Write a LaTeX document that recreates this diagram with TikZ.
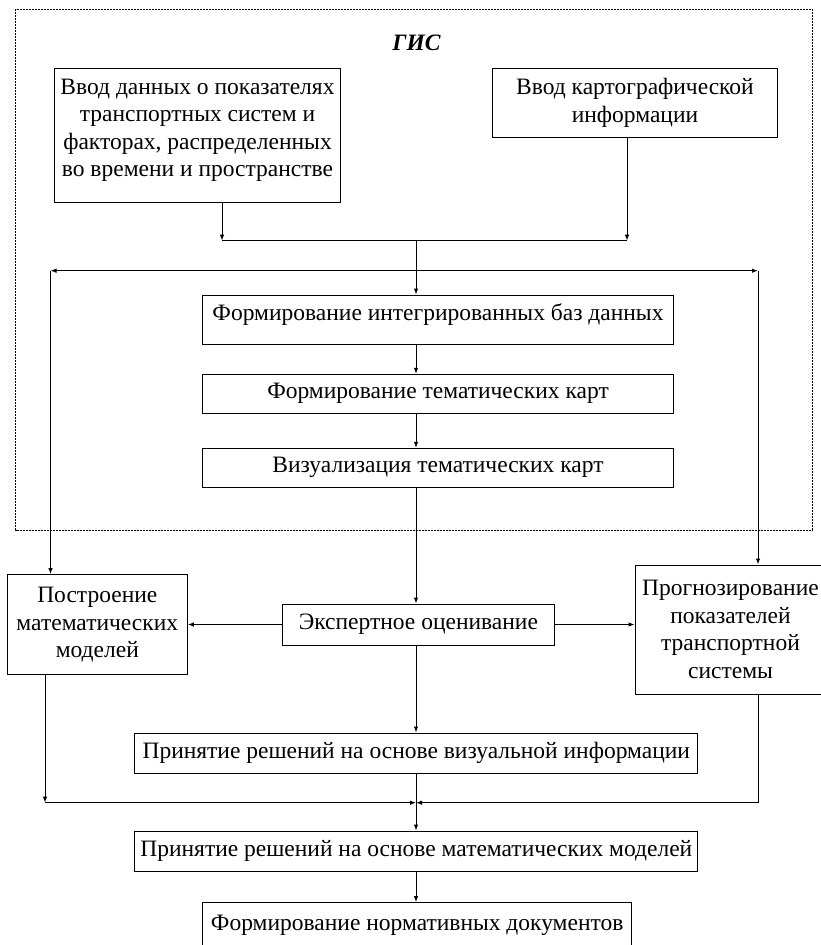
\documentclass[tikz,border=0pt]{standalone}
\usepackage{fontspec}
\usetikzlibrary{arrows.meta}
\setmainfont{Liberation Serif}
\begin{document}
\begin{tikzpicture}[x=1pt, y=-1pt, >={Latex[length=6pt,width=4.5pt]}, line width=1pt,
        box/.style={draw, align=center, inner sep=0pt, font=\fontsize{23.5}{27.4}\selectfont}]
        \useasboundingbox (0,0) rectangle (820,945);
        \draw[dash pattern=on 2pt off 1pt, line width=0.8pt] (15.7,9.3) rectangle (812,530);
        \node[font=\fontsize{23.5}{27.4}\selectfont\bfseries\itshape] (gis) at (416.5,43) {ГИС};
        \node[box, text depth=15pt, minimum width=286pt, minimum height=133.3pt] (inData) at (197.5,135.4) {Ввод данных о показателях\\транспортных систем и\\факторах, распределенных\\во времени и пространстве};
        \node[box, minimum width=285.5pt, minimum height=68.6pt] (inMap) at (635,103) {Ввод картографической\\информации};
        \node[box, text depth=15pt, minimum width=471.2pt, minimum height=49pt] (fDB) at (438,319.5) {Формирование интегрированных баз данных};
        \node[box, minimum width=471.2pt, minimum height=39pt] (fMap) at (438,393.8) {Формирование тематических карт};
        \node[box, minimum width=471.2pt, minimum height=39pt] (vMap) at (438,467.8) {Визуализация тематических карт};
        \node[box, minimum width=180pt, minimum height=100.3pt] (build) at (97.3,624.8) {Построение\\математических\\моделей};
        \node[box, minimum width=272pt, minimum height=41pt] (expert) at (418.4,624.5) {Экспертное оценивание};
        \node[box, minimum width=191pt, minimum height=129pt] (forecast) at (730.5,629.5) {Прогнозирование\\показателей\\транспортной\\системы};
        \node[box, minimum width=562.7pt, minimum height=40pt] (decVis) at (416.3,753) {Принятие решений на основе визуальной информации};
        \node[box, minimum width=562.7pt, minimum height=40pt] (decMath) at (416.3,851) {Принятие решений на основе математических моделей};
        \node[box, minimum width=429pt, minimum height=46pt] (norm) at (417.2,925.7) {Формирование нормативных документов};
        \coordinate (mergeL) at (222,240.7);
        \coordinate (mergeR) at (627,240.7);
        \coordinate (merge) at (416,240.7);
        \coordinate (distL) at (50.5,270.7);
        \coordinate (distR) at (758,270.7);
        \coordinate (joinL) at (45,802.7);
        \coordinate (joinR) at (758,802.7);
        \coordinate (join) at (416,802.7);
        \draw[->] (inData.south -| mergeL) -- (mergeL);
        \draw[->] (inMap.south -| mergeR) -- (mergeR);
        \draw (mergeL) -- (mergeR);
        \draw[->] (merge) -- (fDB.north -| merge);
        \draw[<->] (distL) -- (distR);
        \draw[->] (distL) -- (build.north -| distL);
        \draw[->] (distR) -- (forecast.north -| distR);
        \draw[->] (fDB.south -| merge) -- (fMap.north -| merge);
        \draw[->] (fMap.south -| merge) -- (vMap.north -| merge);
        \draw[->] (vMap.south -| merge) -- (expert.north -| merge);
        \draw[->] (expert.west) -- (expert.west -| build.east);
        \draw[->] (expert.east) -- (expert.east -| forecast.west);
        \draw[->] (expert.south -| merge) -- (decVis.north -| merge);
        \draw[->] (build.south -| joinL) -- (joinL);
        \draw[->] (joinL) -- (join);
        \draw[->] (forecast.south -| joinR) -- (joinR) -- (join);
        \draw[->] (decVis.south -| merge) -- (decMath.north -| merge);
        \draw[->] (decMath.south -| merge) -- (norm.north -| merge);
\end{tikzpicture}
\end{document}
